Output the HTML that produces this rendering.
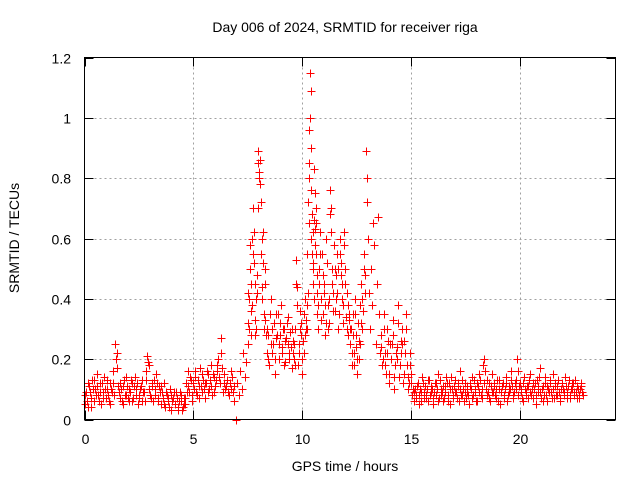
<!DOCTYPE html>
<html><head><meta charset="utf-8"><style>
body{margin:0;background:#fff;}
svg{display:block;font-family:"Liberation Sans",sans-serif;}
</style></head><body>
<svg id="chart" width="640" height="480" viewBox="0 0 640 480">
<rect width="640" height="480" fill="#fff"/>
<g id="grid"></g>
<g id="pts"></g>
<rect x="84.5" y="57.5" width="531" height="362" fill="none" stroke="#000" stroke-width="1"/>
<g id="ticks"></g>
<text x="345" y="32" font-size="14" text-anchor="middle">Day 006 of 2024, SRMTID for receiver riga</text>
<text x="345" y="471" font-size="14" text-anchor="middle">GPS time / hours</text>
<text x="19" y="238" font-size="14" text-anchor="middle" transform="rotate(-90 19 238)">SRMTID / TECUs</text>
</svg>
<script>
const xTicks=[0,5,10,15,20];
const yTicks=[0,0.2,0.4,0.6,0.8,1,1.2];
const yTickLabels=["0","0.2","0.4","0.6","0.8","1","1.2"];
const segStart=[0.0,4.6,6.95,7.0,7.5,8.3,9.6,10.2,10.7,12.2,12.9,13.1,13.6,15.1];
const segStep=[0.07,0.07,0.07,0.07,0.04,0.06,0.05,0.03,0.05,0.05,0.04,0.05,0.06,0.065];
const segValues=[
[.05,.09,.04,.11,.07,.13,.06,.10,.15,.08,.12,.05,.09,.14,.07,.10,.06,.12,.09,.16,.25,.22,.11,.07,.10,.05,.13,.08,.11,.06,.09,.12,.07,.14,.10,.05,.08,.11,.06,.09,.13,.21,.18,.08,.12,.06,.10,.15,.07,.11,.05,.09,.12,.04,.08,.06,.10,.03,.07,.05,.09,.04,.06,.08,.03,.05],
[.07,.12,.16,.09,.13,.06,.10,.14,.08,.11,.17,.09,.13,.07,.12,.15,.10,.18,.08,.14,.11,.16,.20,.12,.27,.09,.15,.11,.13,.08,.10,.14,.06],
[0.0],
[.12,.08,.16,.10,.22,.14,.19,.25],
[.42,.30,.58,.36,.45,.60,.70,.52,.28,.40,.48,.85,.89,.82,.78,.55,.44,.62,.35,.50],
[.33,.22,.28,.18,.40,.30,.25,.15,.35,.28,.20,.32,.38,.24,.30,.19,.27,.34,.22,.29,.17,.26],
[.20,.30,.53,.44,.18,.25,.36,.28,.15,.22,.40,.33],
[.38,.55,.72,.80,.96,1.15,1.09,.60,.68,.45,.52,.83,.75,.63,.70,.48,.35],
[.30,.50,.62,.40,.55,.35,.45,.28,.60,.38,.32,.76,.70,.50,.42,.58,.36,.48,.55,.30,.60,.52,.45,.38,.62,.50,.34,.42,.28,.35],
[.25,.18,.35,.22,.40,.28,.15,.32,.20,.38,.45,.30,.55,.48],
[.89,.80,.72,.60,.42],
[.30,.50,.38,.65,.58,.25,.45,.67,.35,.22],
[.28,.18,.35,.22,.15,.30,.12,.25,.20,.33,.10,.18,.24,.38,.14,.22,.30,.12,.26,.35,.18,.10,.22,.15,.08],
[.06,.10,.08,.12,.05,.09,.14,.07,.11,.08,.06,.13,.09,.10,.05,.12,.08,.15,.07,.10,.09,.06,.11,.14,.08,.12,.05,.10,.07,.13,.09,.11,.06,.16,.08,.10,.12,.07,.09,.05,.11,.14,.08,.10,.06,.12,.09,.13,.07,.18,.20,.10,.08,.12,.06,.15,.09,.11,.07,.13,.10,.05,.09,.12,.08,.14,.06,.11,.10,.16,.07,.09,.13,.20,.08,.12,.10,.06,.14,.09,.11,.07,.15,.08,.12,.10,.05,.13,.09,.17,.07,.11,.08,.14,.06,.10,.12,.09,.15,.07,.11,.08,.13,.06,.10,.12,.09,.14,.07,.11,.08,.10,.12,.09,.13,.07,.10,.08,.11,.09]
];
const seg2Start=[0.03,4.63,7.52,8.32,9.62,10.22,10.72,12.22,13.62,15.13];
const seg2Step=[0.07,0.07,0.04,0.06,0.05,0.03,0.05,0.05,0.06,0.065];
const seg2Values=[
[.08,.06,.12,.09,.04,.10,.13,.08,.11,.06,.09,.12,.07,.10,.13,.08,.05,.10,.12,.08,.20,.17,.09,.12,.06,.11,.08,.14,.07,.10,.13,.06,.11,.08,.12,.07,.10,.13,.09,.06,.16,.19,.10,.07,.11,.13,.08,.12,.06,.09,.11,.07,.05,.09,.07,.04,.08,.06,.09,.05,.07,.03,.09,.06,.04,.07],
[.05,.09,.11,.14,.08,.12,.16,.09,.13,.07,.11,.15,.10,.12,.16,.09,.13,.11,.15,.09,.13,.18,.14,.22,.17,.12,.10,.13,.09,.12,.16,.09,.11],
[.32,.40,.50,.28,.38,.55,.62,.45,.33,.30,.42,.70,.80,.86,.72,.60,.40,.52,.30,.45],
[.28,.30,.20,.35,.25,.22,.32,.20,.27,.35,.25,.28,.22,.30,.18,.26,.32,.25,.20,.24,.30,.22],
[.25,.18,.45,.38,.22,.30,.32,.20,.26,.35,.28,.30],
[.30,.42,.65,.85,1.0,.90,.76,.55,.62,.50,.40,.66,.58,.55,.65,.42,.30],
[.38,.45,.55,.33,.48,.42,.38,.32,.52,.30,.40,.68,.62,.45,.36,.50,.40,.42,.50,.35,.55,.48,.40,.32,.58,.45,.30,.38,.33,.30],
[.30,.22,.28,.18,.35,.24,.20,.26,.25,.32,.40,.36,.50,.42],
[.24,.20,.30,.18,.22,.26,.15,.20,.25,.28,.14,.22,.20,.32,.18,.26,.25,.15,.22,.30,.14,.12,.18,.12,.10],
[.09,.07,.11,.08,.10,.06,.12,.09,.07,.10,.13,.08,.11,.07,.09,.12,.10,.06,.13,.08,.11,.07,.09,.12,.06,.10,.14,.08,.11,.09,.07,.12,.10,.08,.13,.06,.09,.11,.08,.12,.10,.07,.13,.09,.06,.11,.15,.08,.10,.12,.16,.13,.09,.07,.11,.09,.12,.08,.10,.06,.13,.09,.11,.07,.10,.12,.08,.09,.13,.11,.08,.12,.10,.16,.11,.09,.07,.12,.10,.08,.11,.13,.09,.10,.07,.12,.08,.11,.14,.09,.10,.06,.12,.08,.11,.09,.13,.07,.10,.12,.08,.11,.09,.07,.12,.10,.08,.11,.09,.13,.07,.10,.12,.08,.09,.11,.07,.10,.12,.08]
];
const X0=84.5,X1=615.5,Y0=419.5,Y1=57.5,XMAX=24.36,YMAX=1.2;
function sx(t){return X0+(X1-X0)*t/XMAX;}
function sy(v){return Y0-(Y0-Y1)*v/YMAX;}
const NS="http://www.w3.org/2000/svg";
const grid=document.getElementById('grid'),ticks=document.getElementById('ticks'),pts=document.getElementById('pts');
function mk(tag,attrs,parent){const e=document.createElementNS(NS,tag);for(const k in attrs)e.setAttribute(k,attrs[k]);parent.appendChild(e);return e;}
yTicks.forEach((v,i)=>{
  const y=Math.round(sy(v))+0.5;
  if(i>0&&i<yTicks.length-1){
    const g=mk('line',{x1:X0,x2:X1,y1:y,y2:y,stroke:'#a0a0a0','stroke-dasharray':'2,3'},grid);
    
    
  }
  const t1=mk('path',{d:`M${X0} ${y}h9M${X1} ${y}h-9`,stroke:'#000'},ticks);
  
  
  const lb=mk('text',{x:71,y:y+5,'font-size':14,'text-anchor':'end'},ticks);
  lb.textContent=yTickLabels[i];
  
  
});
xTicks.forEach(v=>{
  const x=Math.round(sx(v))+0.5;
  if(v>0){
    const g=mk('line',{x1:x,x2:x,y1:Y0,y2:Y1,stroke:'#a0a0a0','stroke-dasharray':'2,3'},grid);
    
    
  }
  const t1=mk('path',{d:`M${x} ${Y0}v-9M${x} ${Y1}v9`,stroke:'#000'},ticks);
  
  
  const lb=mk('text',{x:x,y:444,'font-size':14,'text-anchor':'middle'},ticks);
  lb.textContent=String(v);
  
  
});
let d='';
function addSegs(starts,steps,valsArr){
  valsArr.forEach((vals,s)=>{
    vals.forEach((v,i)=>{
      const t=starts[s]+steps[s]*i;
      const x=Math.round(sx(t))+0.5,y=Math.round(sy(v))+0.5;
      d+=`M${x-4} ${y}h8M${x} ${y-4}v8`;
    });
  });
}
addSegs(segStart,segStep,segValues);
addSegs(seg2Start,seg2Step,seg2Values);
const p=mk('path',{d:d,stroke:'#ff0000','stroke-width':1,fill:'none'},pts);


</script>
</body></html>
